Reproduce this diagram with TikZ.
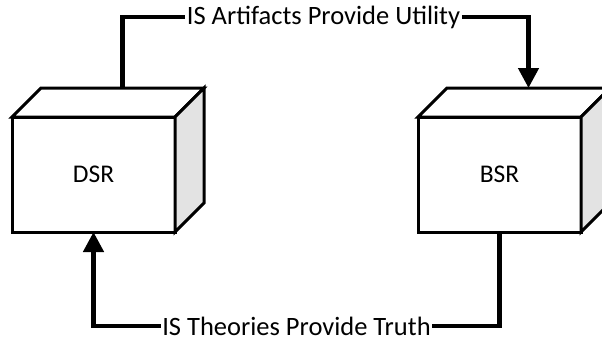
\documentclass[tikz,border=0pt]{standalone}
\usepackage{fontspec}
\setmainfont{Carlito}
\usetikzlibrary{arrows.meta,calc}
\begin{document}
\begin{tikzpicture}[x=1pt,y=-1pt,
  front/.style={draw=black,line width=3pt,fill=white,minimum width=163pt,
    minimum height=115pt,inner sep=0pt,outer sep=0pt,font=\fontsize{25.5}{30}\selectfont},
  topface/.style={draw=black,line width=3pt,fill=white},
  sideface/.style={draw=black,line width=3pt,fill=gray!22},
  link/.style={line width=4.5pt},
  tip/.style={-{Triangle[length=20pt,width=20pt]}},
  lbl/.style={inner xsep=1.5pt,inner ysep=0pt,font=\fontsize{26.5}{31}\selectfont}]
\useasboundingbox (0,0) rectangle (602,340);

% Design science box
\node[front] (dsr) at (93.5,174.5) {DSR};
\draw[topface] (dsr.north west) -- ++(29,-29) -- ++(163,0) -- (dsr.north east) -- cycle;
\draw[sideface] (dsr.north east) -- ++(29,-29) -- ++(0,115) -- (dsr.south east) -- cycle;
\coordinate (dsrtop) at ($(dsr.north)+(29,-29)$);

% Behavioural science box
\node[front] (bsr) at (499.5,174.5) {BSR};
\draw[topface] (bsr.north west) -- ++(29,-29) -- ++(163,0) -- (bsr.north east) -- cycle;
\draw[sideface] (bsr.north east) -- ++(29,-29) -- ++(0,115) -- (bsr.south east) -- cycle;
\coordinate (bsrtop) at ($(bsr.north)+(29,-29)$);

% Labels
\node[lbl] (util) at (323.5,17) {IS Artifacts Provide Utility};
\node[lbl] (truth) at (296.5,326) {IS Theories Provide Truth};

% Connectors
\draw[link] (dsrtop) |- (util.west);
\draw[link,tip] (util.east) -| (bsrtop);
\draw[link] (bsr.south) |- (truth.east);
\draw[link,tip] (truth.west) -| (dsr.south);
\end{tikzpicture}
\end{document}
